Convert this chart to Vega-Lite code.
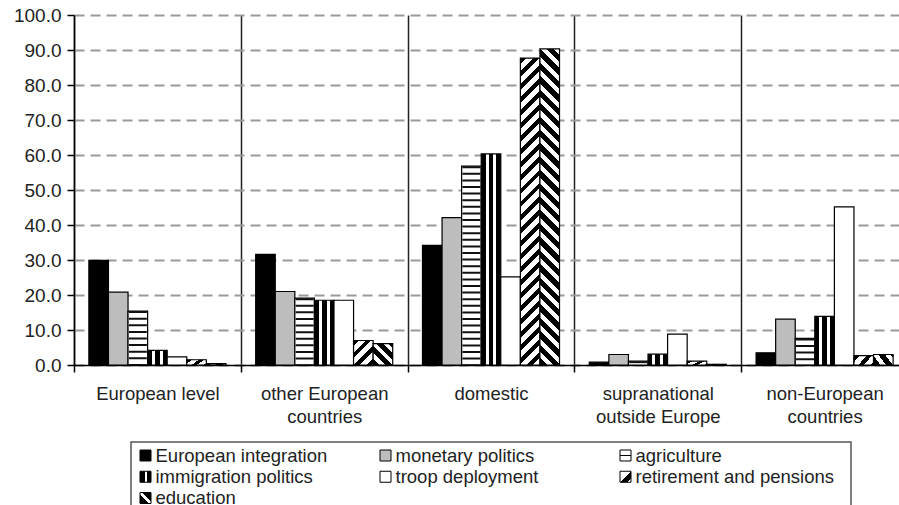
{
  "$schema": "https://vega.github.io/schema/vega-lite/v6.json",
  "background": "white",
  "padding": {"left": 13, "top": 6, "right": 0, "bottom": 0},
  "spacing": 77,
  "bounds": "flush",
  "center": true,
  "datasets": {
    "bars": [
      {"group": "European level", "series": "European integration", "value": 29.9},
      {"group": "European level", "series": "monetary politics", "value": 20.8},
      {"group": "European level", "series": "agriculture", "value": 15.4},
      {"group": "European level", "series": "immigration politics", "value": 4.2},
      {"group": "European level", "series": "troop deployment", "value": 2.3},
      {"group": "European level", "series": "retirement and pensions", "value": 1.5},
      {"group": "European level", "series": "education", "value": 0.4},
      {"group": "other European countries", "series": "European integration", "value": 31.6},
      {"group": "other European countries", "series": "monetary politics", "value": 21.0},
      {"group": "other European countries", "series": "agriculture", "value": 19.1},
      {"group": "other European countries", "series": "immigration politics", "value": 18.5},
      {"group": "other European countries", "series": "troop deployment", "value": 18.5},
      {"group": "other European countries", "series": "retirement and pensions", "value": 7.0},
      {"group": "other European countries", "series": "education", "value": 6.1},
      {"group": "domestic", "series": "European integration", "value": 34.2},
      {"group": "domestic", "series": "monetary politics", "value": 42.1},
      {"group": "domestic", "series": "agriculture", "value": 56.8},
      {"group": "domestic", "series": "immigration politics", "value": 60.3},
      {"group": "domestic", "series": "troop deployment", "value": 25.2},
      {"group": "domestic", "series": "retirement and pensions", "value": 87.7},
      {"group": "domestic", "series": "education", "value": 90.3},
      {"group": "supranational outside Europe", "series": "European integration", "value": 0.8},
      {"group": "supranational outside Europe", "series": "monetary politics", "value": 3.0},
      {"group": "supranational outside Europe", "series": "agriculture", "value": 1.1},
      {"group": "supranational outside Europe", "series": "immigration politics", "value": 3.1},
      {"group": "supranational outside Europe", "series": "troop deployment", "value": 8.8},
      {"group": "supranational outside Europe", "series": "retirement and pensions", "value": 1.1},
      {"group": "supranational outside Europe", "series": "education", "value": 0.2},
      {"group": "non-European countries", "series": "European integration", "value": 3.5},
      {"group": "non-European countries", "series": "monetary politics", "value": 13.1},
      {"group": "non-European countries", "series": "agriculture", "value": 7.6},
      {"group": "non-European countries", "series": "immigration politics", "value": 13.9},
      {"group": "non-European countries", "series": "troop deployment", "value": 45.2},
      {"group": "non-European countries", "series": "retirement and pensions", "value": 2.7},
      {"group": "non-European countries", "series": "education", "value": 3.0}
    ],
    "series": [
      {"series": "European integration"},
      {"series": "monetary politics"},
      {"series": "agriculture"},
      {"series": "immigration politics"},
      {"series": "troop deployment"},
      {"series": "retirement and pensions"},
      {"series": "education"}
    ]
  },
  "vconcat": [
    {
      "width": 834,
      "height": 350,
      "data": {"name": "bars"},
      "encoding": {
        "x": {
          "field": "group", "type": "nominal",
          "sort": ["European level", "other European countries", "domestic", "supranational outside Europe", "non-European countries"],
          "scale": {"paddingInner": 0, "paddingOuter": 0},
          "axis": {
            "title": null, "labelAngle": 0, "tickBand": "extent",
            "grid": true, "gridColor": "#222", "gridWidth": 1.5, "gridDash": [],
            "domainColor": "#000", "domainWidth": 1.5,
            "tickColor": "#000", "tickWidth": 1.5, "tickSize": 7,
            "labelPadding": 12, "labelFontSize": 18.5, "labelLineHeight": 23, "labelColor": "#222",
            "labelExpr": "datum.value === 'other European countries' ? ['other European', 'countries'] : datum.value === 'supranational outside Europe' ? ['supranational', 'outside Europe'] : datum.value === 'non-European countries' ? ['non-European', 'countries'] : datum.value"
          }
        },
        "xOffset": {
          "field": "series", "type": "nominal",
          "sort": ["European integration", "monetary politics", "agriculture", "immigration politics", "troop deployment", "retirement and pensions", "education"],
          "scale": {"paddingInner": 0, "paddingOuter": 0.76}
        },
        "y": {
          "field": "value", "type": "quantitative",
          "scale": {"domain": [0, 100]},
          "axis": {
            "title": null, "values": [0, 10, 20, 30, 40, 50, 60, 70, 80, 90, 100], "format": ".1f",
            "grid": true, "gridColor": "#9a9a9a", "gridDash": [10, 6], "gridWidth": 2,
            "domainColor": "#000", "domainWidth": 1.5,
            "tickColor": "#000", "tickWidth": 1.5, "tickSize": 7,
            "labelPadding": 6, "labelFontSize": 19, "labelColor": "#222"
          }
        }
      },
      "layer": [
        {
          "mark": {"type": "bar", "stroke": "#000", "strokeWidth": 1.2},
          "encoding": {
            "fill": {
              "condition": [
                {"test": "datum.series === 'European integration'", "value": "#000"},
                {"test": "datum.series === 'monetary politics'", "value": "#bdbdbd"},
                {"test": "datum.series === 'immigration politics'", "value": {"gradient": "linear", "x1": 0, "y1": 0, "x2": 1, "y2": 0, "stops": [
                  {"offset": 0, "color": "#000"}, {"offset": 0.22, "color": "#000"}, {"offset": 0.22, "color": "#fff"}, {"offset": 0.38, "color": "#fff"},
                  {"offset": 0.38, "color": "#000"}, {"offset": 0.62, "color": "#000"}, {"offset": 0.62, "color": "#fff"}, {"offset": 0.78, "color": "#fff"},
                  {"offset": 0.78, "color": "#000"}, {"offset": 1, "color": "#000"}]}},
                {"test": "datum.series === 'retirement and pensions' && datum.group === 'domestic'", "value": {"gradient": "linear", "x1": 0, "y1": 0, "x2": 0.0676, "y2": 1.0595, "stops": [
                  {"offset": 0, "color": "#000"}, {"offset": 0.018, "color": "#000"}, {"offset": 0.018, "color": "#fff"}, {"offset": 0.04, "color": "#fff"},
                  {"offset": 0.04, "color": "#000"}, {"offset": 0.058, "color": "#000"}, {"offset": 0.058, "color": "#fff"}, {"offset": 0.08, "color": "#fff"},
                  {"offset": 0.08, "color": "#000"}, {"offset": 0.098, "color": "#000"}, {"offset": 0.098, "color": "#fff"}, {"offset": 0.12, "color": "#fff"},
                  {"offset": 0.12, "color": "#000"}, {"offset": 0.138, "color": "#000"}, {"offset": 0.138, "color": "#fff"}, {"offset": 0.16, "color": "#fff"},
                  {"offset": 0.16, "color": "#000"}, {"offset": 0.178, "color": "#000"}, {"offset": 0.178, "color": "#fff"}, {"offset": 0.2, "color": "#fff"},
                  {"offset": 0.2, "color": "#000"}, {"offset": 0.218, "color": "#000"}, {"offset": 0.218, "color": "#fff"}, {"offset": 0.24, "color": "#fff"},
                  {"offset": 0.24, "color": "#000"}, {"offset": 0.258, "color": "#000"}, {"offset": 0.258, "color": "#fff"}, {"offset": 0.28, "color": "#fff"},
                  {"offset": 0.28, "color": "#000"}, {"offset": 0.298, "color": "#000"}, {"offset": 0.298, "color": "#fff"}, {"offset": 0.32, "color": "#fff"},
                  {"offset": 0.32, "color": "#000"}, {"offset": 0.338, "color": "#000"}, {"offset": 0.338, "color": "#fff"}, {"offset": 0.36, "color": "#fff"},
                  {"offset": 0.36, "color": "#000"}, {"offset": 0.378, "color": "#000"}, {"offset": 0.378, "color": "#fff"}, {"offset": 0.4, "color": "#fff"},
                  {"offset": 0.4, "color": "#000"}, {"offset": 0.418, "color": "#000"}, {"offset": 0.418, "color": "#fff"}, {"offset": 0.44, "color": "#fff"},
                  {"offset": 0.44, "color": "#000"}, {"offset": 0.458, "color": "#000"}, {"offset": 0.458, "color": "#fff"}, {"offset": 0.48, "color": "#fff"},
                  {"offset": 0.48, "color": "#000"}, {"offset": 0.498, "color": "#000"}, {"offset": 0.498, "color": "#fff"}, {"offset": 0.52, "color": "#fff"},
                  {"offset": 0.52, "color": "#000"}, {"offset": 0.538, "color": "#000"}, {"offset": 0.538, "color": "#fff"}, {"offset": 0.56, "color": "#fff"},
                  {"offset": 0.56, "color": "#000"}, {"offset": 0.578, "color": "#000"}, {"offset": 0.578, "color": "#fff"}, {"offset": 0.6, "color": "#fff"},
                  {"offset": 0.6, "color": "#000"}, {"offset": 0.618, "color": "#000"}, {"offset": 0.618, "color": "#fff"}, {"offset": 0.64, "color": "#fff"},
                  {"offset": 0.64, "color": "#000"}, {"offset": 0.658, "color": "#000"}, {"offset": 0.658, "color": "#fff"}, {"offset": 0.68, "color": "#fff"},
                  {"offset": 0.68, "color": "#000"}, {"offset": 0.698, "color": "#000"}, {"offset": 0.698, "color": "#fff"}, {"offset": 0.72, "color": "#fff"},
                  {"offset": 0.72, "color": "#000"}, {"offset": 0.738, "color": "#000"}, {"offset": 0.738, "color": "#fff"}, {"offset": 0.76, "color": "#fff"},
                  {"offset": 0.76, "color": "#000"}, {"offset": 0.778, "color": "#000"}, {"offset": 0.778, "color": "#fff"}, {"offset": 0.8, "color": "#fff"},
                  {"offset": 0.8, "color": "#000"}, {"offset": 0.818, "color": "#000"}, {"offset": 0.818, "color": "#fff"}, {"offset": 0.84, "color": "#fff"},
                  {"offset": 0.84, "color": "#000"}, {"offset": 0.858, "color": "#000"}, {"offset": 0.858, "color": "#fff"}, {"offset": 0.88, "color": "#fff"},
                  {"offset": 0.88, "color": "#000"}, {"offset": 0.898, "color": "#000"}, {"offset": 0.898, "color": "#fff"}, {"offset": 0.92, "color": "#fff"},
                  {"offset": 0.92, "color": "#000"}, {"offset": 0.938, "color": "#000"}, {"offset": 0.938, "color": "#fff"}, {"offset": 0.96, "color": "#fff"},
                  {"offset": 0.96, "color": "#000"}, {"offset": 0.978, "color": "#000"}, {"offset": 0.978, "color": "#fff"}, {"offset": 1, "color": "#fff"}]}},
                {"test": "datum.series === 'retirement and pensions' && datum.group === 'other European countries'", "value": {"gradient": "linear", "x1": 0, "y1": 0, "x2": 0.8776, "y2": 1.0979, "stops": [
                  {"offset": 0, "color": "#000"}, {"offset": 0.126, "color": "#000"}, {"offset": 0.126, "color": "#fff"}, {"offset": 0.28, "color": "#fff"},
                  {"offset": 0.28, "color": "#000"}, {"offset": 0.406, "color": "#000"}, {"offset": 0.406, "color": "#fff"}, {"offset": 0.56, "color": "#fff"},
                  {"offset": 0.56, "color": "#000"}, {"offset": 0.686, "color": "#000"}, {"offset": 0.686, "color": "#fff"}, {"offset": 0.84, "color": "#fff"},
                  {"offset": 0.84, "color": "#000"}, {"offset": 0.966, "color": "#000"}, {"offset": 0.966, "color": "#fff"}, {"offset": 1, "color": "#fff"}]}},
                {"test": "datum.series === 'retirement and pensions'", "value": {"gradient": "linear", "x1": 0, "y1": 0, "x2": 1.207, "y2": 0.483, "stops": [
                  {"offset": 0, "color": "#000"}, {"offset": 0.2, "color": "#000"}, {"offset": 0.2, "color": "#fff"}, {"offset": 0.45, "color": "#fff"},
                  {"offset": 0.45, "color": "#000"}, {"offset": 0.65, "color": "#000"}, {"offset": 0.65, "color": "#fff"}, {"offset": 0.9, "color": "#fff"},
                  {"offset": 0.9, "color": "#000"}, {"offset": 1, "color": "#000"}]}},
                {"test": "datum.series === 'education' && datum.group === 'domestic'", "value": {"gradient": "linear", "x1": 0, "y1": 1, "x2": 0.0655, "y2": -0.0579, "stops": [
                  {"offset": 0, "color": "#000"}, {"offset": 0.022, "color": "#000"}, {"offset": 0.022, "color": "#fff"}, {"offset": 0.04, "color": "#fff"},
                  {"offset": 0.04, "color": "#000"}, {"offset": 0.062, "color": "#000"}, {"offset": 0.062, "color": "#fff"}, {"offset": 0.08, "color": "#fff"},
                  {"offset": 0.08, "color": "#000"}, {"offset": 0.102, "color": "#000"}, {"offset": 0.102, "color": "#fff"}, {"offset": 0.12, "color": "#fff"},
                  {"offset": 0.12, "color": "#000"}, {"offset": 0.142, "color": "#000"}, {"offset": 0.142, "color": "#fff"}, {"offset": 0.16, "color": "#fff"},
                  {"offset": 0.16, "color": "#000"}, {"offset": 0.182, "color": "#000"}, {"offset": 0.182, "color": "#fff"}, {"offset": 0.2, "color": "#fff"},
                  {"offset": 0.2, "color": "#000"}, {"offset": 0.222, "color": "#000"}, {"offset": 0.222, "color": "#fff"}, {"offset": 0.24, "color": "#fff"},
                  {"offset": 0.24, "color": "#000"}, {"offset": 0.262, "color": "#000"}, {"offset": 0.262, "color": "#fff"}, {"offset": 0.28, "color": "#fff"},
                  {"offset": 0.28, "color": "#000"}, {"offset": 0.302, "color": "#000"}, {"offset": 0.302, "color": "#fff"}, {"offset": 0.32, "color": "#fff"},
                  {"offset": 0.32, "color": "#000"}, {"offset": 0.342, "color": "#000"}, {"offset": 0.342, "color": "#fff"}, {"offset": 0.36, "color": "#fff"},
                  {"offset": 0.36, "color": "#000"}, {"offset": 0.382, "color": "#000"}, {"offset": 0.382, "color": "#fff"}, {"offset": 0.4, "color": "#fff"},
                  {"offset": 0.4, "color": "#000"}, {"offset": 0.422, "color": "#000"}, {"offset": 0.422, "color": "#fff"}, {"offset": 0.44, "color": "#fff"},
                  {"offset": 0.44, "color": "#000"}, {"offset": 0.462, "color": "#000"}, {"offset": 0.462, "color": "#fff"}, {"offset": 0.48, "color": "#fff"},
                  {"offset": 0.48, "color": "#000"}, {"offset": 0.502, "color": "#000"}, {"offset": 0.502, "color": "#fff"}, {"offset": 0.52, "color": "#fff"},
                  {"offset": 0.52, "color": "#000"}, {"offset": 0.542, "color": "#000"}, {"offset": 0.542, "color": "#fff"}, {"offset": 0.56, "color": "#fff"},
                  {"offset": 0.56, "color": "#000"}, {"offset": 0.582, "color": "#000"}, {"offset": 0.582, "color": "#fff"}, {"offset": 0.6, "color": "#fff"},
                  {"offset": 0.6, "color": "#000"}, {"offset": 0.622, "color": "#000"}, {"offset": 0.622, "color": "#fff"}, {"offset": 0.64, "color": "#fff"},
                  {"offset": 0.64, "color": "#000"}, {"offset": 0.662, "color": "#000"}, {"offset": 0.662, "color": "#fff"}, {"offset": 0.68, "color": "#fff"},
                  {"offset": 0.68, "color": "#000"}, {"offset": 0.702, "color": "#000"}, {"offset": 0.702, "color": "#fff"}, {"offset": 0.72, "color": "#fff"},
                  {"offset": 0.72, "color": "#000"}, {"offset": 0.742, "color": "#000"}, {"offset": 0.742, "color": "#fff"}, {"offset": 0.76, "color": "#fff"},
                  {"offset": 0.76, "color": "#000"}, {"offset": 0.782, "color": "#000"}, {"offset": 0.782, "color": "#fff"}, {"offset": 0.8, "color": "#fff"},
                  {"offset": 0.8, "color": "#000"}, {"offset": 0.822, "color": "#000"}, {"offset": 0.822, "color": "#fff"}, {"offset": 0.84, "color": "#fff"},
                  {"offset": 0.84, "color": "#000"}, {"offset": 0.862, "color": "#000"}, {"offset": 0.862, "color": "#fff"}, {"offset": 0.88, "color": "#fff"},
                  {"offset": 0.88, "color": "#000"}, {"offset": 0.902, "color": "#000"}, {"offset": 0.902, "color": "#fff"}, {"offset": 0.92, "color": "#fff"},
                  {"offset": 0.92, "color": "#000"}, {"offset": 0.942, "color": "#000"}, {"offset": 0.942, "color": "#fff"}, {"offset": 0.96, "color": "#fff"},
                  {"offset": 0.96, "color": "#000"}, {"offset": 0.982, "color": "#000"}, {"offset": 0.982, "color": "#fff"}, {"offset": 1, "color": "#fff"}]}},
                {"test": "datum.series === 'education' && datum.group === 'other European countries'", "value": {"gradient": "linear", "x1": 0, "y1": 1, "x2": 0.955, "y2": -0.0413, "stops": [
                  {"offset": 0, "color": "#000"}, {"offset": 0.165, "color": "#000"}, {"offset": 0.165, "color": "#fff"}, {"offset": 0.3, "color": "#fff"},
                  {"offset": 0.3, "color": "#000"}, {"offset": 0.465, "color": "#000"}, {"offset": 0.465, "color": "#fff"}, {"offset": 0.6, "color": "#fff"},
                  {"offset": 0.6, "color": "#000"}, {"offset": 0.765, "color": "#000"}, {"offset": 0.765, "color": "#fff"}, {"offset": 0.9, "color": "#fff"},
                  {"offset": 0.9, "color": "#000"}, {"offset": 1, "color": "#000"}]}},
                {"test": "datum.series === 'education'", "value": {"gradient": "linear", "x1": 0, "y1": 1, "x2": 1.207, "y2": 0.517, "stops": [
                  {"offset": 0, "color": "#000"}, {"offset": 0.25, "color": "#000"}, {"offset": 0.25, "color": "#fff"}, {"offset": 0.45, "color": "#fff"},
                  {"offset": 0.45, "color": "#000"}, {"offset": 0.7, "color": "#000"}, {"offset": 0.7, "color": "#fff"}, {"offset": 0.9, "color": "#fff"},
                  {"offset": 0.9, "color": "#000"}, {"offset": 1, "color": "#000"}]}}
              ],
              "value": "#fff"
            }
          }
        },
        {
          "transform": [{"filter": "datum.series === 'agriculture'"}],
          "mark": {"type": "rule", "stroke": "#111", "strokeWidth": 18, "strokeDash": [2, 4.6]},
          "encoding": {"y2": {"datum": 0}}
        }
      ]
    },
    {
      "width": 720,
      "height": 66,
      "view": {"stroke": "#555", "strokeWidth": 1.5},
      "data": {"name": "series"},
      "transform": [
        {"window": [{"op": "row_number", "as": "idx"}]},
        {"calculate": "(datum.idx - 1) % 3", "as": "col"},
        {"calculate": "floor((datum.idx - 1) / 3)", "as": "row"}
      ],
      "encoding": {
        "x": {"field": "col", "type": "quantitative", "scale": {"domain": [0, 2], "range": [14.5, 494.5]}, "axis": null},
        "y": {"field": "row", "type": "quantitative", "scale": {"domain": [0, 2], "range": [13.5, 56]}, "axis": null}
      },
      "layer": [
        {
          "mark": {"type": "point", "shape": "square", "size": 121, "filled": true, "stroke": "#000", "strokeWidth": 1, "opacity": 1},
          "encoding": {
            "fill": {
              "condition": [
                {"test": "datum.series === 'European integration'", "value": "#000"},
                {"test": "datum.series === 'monetary politics'", "value": "#bdbdbd"},
                {"test": "datum.series === 'agriculture'", "value": {"gradient": "linear", "x1": 0, "y1": 0, "x2": 0, "y2": 1, "stops": [
                  {"offset": 0, "color": "#fff"}, {"offset": 0.42, "color": "#fff"}, {"offset": 0.42, "color": "#000"}, {"offset": 0.58, "color": "#000"},
                  {"offset": 0.58, "color": "#fff"}, {"offset": 1, "color": "#fff"}]}},
                {"test": "datum.series === 'immigration politics'", "value": {"gradient": "linear", "x1": 0, "y1": 0, "x2": 1, "y2": 0, "stops": [
                  {"offset": 0, "color": "#000"}, {"offset": 0.45, "color": "#000"}, {"offset": 0.45, "color": "#fff"}, {"offset": 0.62, "color": "#fff"},
                  {"offset": 0.62, "color": "#000"}, {"offset": 1, "color": "#000"}]}},
                {"test": "datum.series === 'retirement and pensions'", "value": {"gradient": "linear", "x1": 0, "y1": 0, "x2": 1, "y2": 1, "stops": [
                  {"offset": 0, "color": "#fff"}, {"offset": 0.5, "color": "#fff"}, {"offset": 0.5, "color": "#000"}, {"offset": 0.85, "color": "#000"},
                  {"offset": 0.85, "color": "#fff"}, {"offset": 1, "color": "#fff"}]}},
                {"test": "datum.series === 'education'", "value": {"gradient": "linear", "x1": 0, "y1": 1, "x2": 1, "y2": 0, "stops": [
                  {"offset": 0, "color": "#000"}, {"offset": 0.4, "color": "#000"}, {"offset": 0.4, "color": "#fff"}, {"offset": 0.6, "color": "#fff"},
                  {"offset": 0.6, "color": "#000"}, {"offset": 1, "color": "#000"}]}}
              ],
              "value": "#fff"
            }
          }
        },
        {
          "mark": {"type": "text", "align": "left", "baseline": "middle", "dx": 10, "fontSize": 18.5, "color": "#222"},
          "encoding": {"text": {"field": "series"}}
        }
      ]
    }
  ],
  "config": {
    "font": "Liberation Sans",
    "view": {"stroke": null},
    "axis": {"labelFont": "Liberation Sans"}
  }
}
